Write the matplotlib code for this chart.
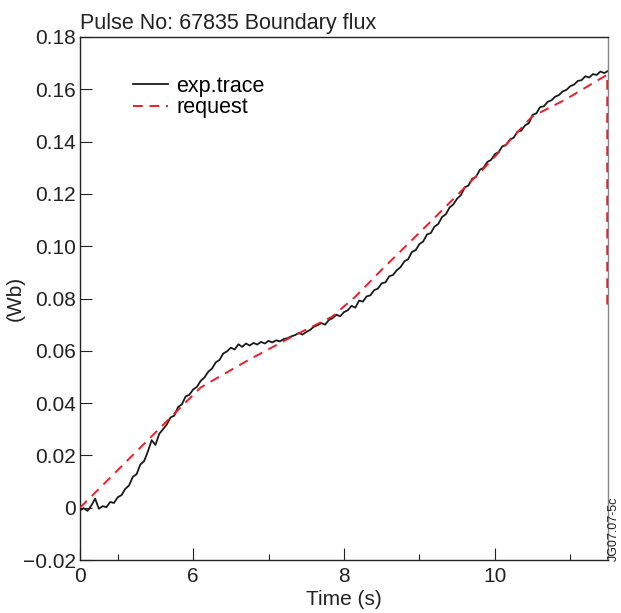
import numpy as np
import matplotlib
matplotlib.use('Agg')
import matplotlib.pyplot as plt

plt.rcParams['font.family'] = ['Liberation Sans', 'DejaVu Sans']

# measured boundary flux, sampled every 0.05 s from 4.5 s to 11.5 s
flux = [-0.0010, -0.0002, -0.0012, 0.0008, 0.0035, -0.0004, 0.0006, 0.0002, 0.0022, 0.0018,
        0.0040, 0.0048, 0.0072, 0.0085, 0.0118, 0.0128, 0.0165, 0.0178, 0.0215, 0.0258,
        0.0240, 0.0282, 0.0300, 0.0318, 0.0345, 0.0352, 0.0385, 0.0395, 0.0425, 0.0432,
        0.0452, 0.0462, 0.0485, 0.0498, 0.0520, 0.0532, 0.0556, 0.0565, 0.0590, 0.0598,
        0.0612, 0.0605, 0.0625, 0.0615, 0.0628, 0.0620, 0.0630, 0.0624, 0.0634, 0.0628,
        0.0638, 0.0632, 0.0640, 0.0636, 0.0645, 0.0648, 0.0655, 0.0660, 0.0668, 0.0662,
        0.0672, 0.0680, 0.0692, 0.0698, 0.0706, 0.0700, 0.0718, 0.0725, 0.0738, 0.0732,
        0.0748, 0.0755, 0.0772, 0.0765, 0.0792, 0.0788, 0.0808, 0.0812, 0.0832, 0.0838,
        0.0858, 0.0862, 0.0885, 0.0890, 0.0908, 0.0920, 0.0942, 0.0950, 0.0978, 0.0985,
        0.1008, 0.1018, 0.1045, 0.1050, 0.1075, 0.1085, 0.1112, 0.1122, 0.1148, 0.1160,
        0.1182, 0.1195, 0.1225, 0.1232, 0.1258, 0.1265, 0.1292, 0.1300, 0.1322, 0.1330,
        0.1352, 0.1360, 0.1382, 0.1388, 0.1408, 0.1415, 0.1438, 0.1442, 0.1462, 0.1470,
        0.1502, 0.1508, 0.1532, 0.1535, 0.1552, 0.1558, 0.1572, 0.1578, 0.1592, 0.1598,
        0.1612, 0.1618, 0.1632, 0.1635, 0.1650, 0.1645, 0.1658, 0.1655, 0.1668, 0.1662,
        0.1670]
t_flux = np.linspace(4.5, 11.5, len(flux))

# requested waveform
t_req = [4.5, 6.1, 6.74, 7.35, 7.84, 8.15, 8.5, 9.17, 9.83, 10.49, 10.93, 11.49, 11.49]
req = [0.0, 0.046, 0.0566, 0.066, 0.073, 0.0807, 0.091, 0.110, 0.129, 0.1495, 0.156, 0.1656, 0.077]

xticks = [4.5, 6, 8, 10]
xticklabels = ['0', '6', '8', '10']
xminor = [5, 7, 9, 11]
yticks = [-0.02, 0, 0.02, 0.04, 0.06, 0.08, 0.10, 0.12, 0.14, 0.16, 0.18]
yticklabels = ['\u22120.02', '0', '0.02', '0.04', '0.06', '0.08', '0.10', '0.12', '0.14', '0.16', '0.18']

fig = plt.figure(figsize=(6.21, 6.13), dpi=100)
ax = fig.add_axes([80/621, 1 - 560/613, 528/621, 523/613])

ax.plot(t_flux, flux, color='#1a1a1a', lw=1.3, label='exp.trace')
ax.plot(t_req, req, color='#e8202a', lw=1.4, dashes=(5, 3.5), label='request', zorder=3)

ax.set_xlim(4.5, 11.5)
ax.set_ylim(-0.02, 0.18)
ax.set_xticks(xticks)
ax.set_xticklabels(xticklabels)
ax.set_xticks(xminor, minor=True)
ax.set_yticks(yticks)
ax.set_yticklabels(yticklabels)

ax.tick_params(axis='both', which='major', direction='in', length=8.6, width=0.8,
               labelsize=15, pad=3, colors='#222222')
ax.tick_params(axis='x', which='major', pad=5)
ax.tick_params(axis='x', which='minor', direction='in', length=4.5, width=0.8, color='#222222')
ax.tick_params(top=False, right=False)

for side in ['left', 'bottom', 'top']:
    ax.spines[side].set_color('#222222')
    ax.spines[side].set_linewidth(1.0)
ax.spines['right'].set_color('#888888')
ax.spines['right'].set_linewidth(1.0)

ax.set_title('Pulse No: 67835 Boundary flux', loc='left', fontsize=15.5, pad=6, color='#222222')
ax.set_xlabel('Time (s)', fontsize=15, labelpad=3, color='#222222')
ax.set_ylabel('(Wb)', fontsize=15, color='#222222')
ax.yaxis.set_label_coords(-0.104, 0.5)

ax.legend(loc='upper left', bbox_to_anchor=(0.1, 0.926), frameon=False, fontsize=15.5,
          handlelength=1.65, handletextpad=0.37, labelspacing=0.02, borderpad=0,
          borderaxespad=0)

fig.text(614/621, 1 - 561/613, 'JG07.07-5c', rotation=90, fontsize=9,
         ha='center', va='bottom', color='#222222')

fig.savefig('out.png', dpi=100)
